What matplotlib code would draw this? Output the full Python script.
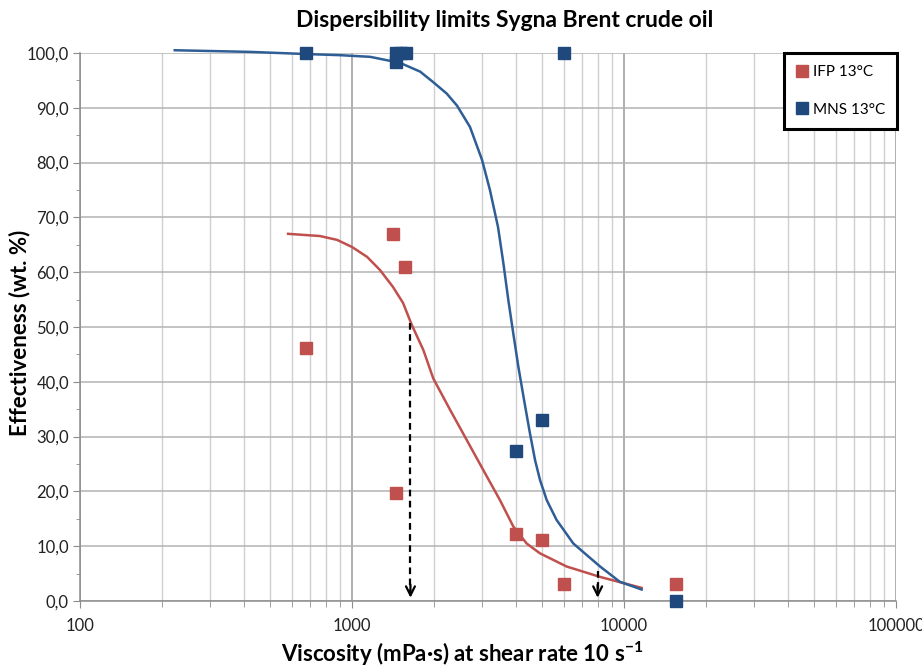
import numpy as np
import matplotlib
matplotlib.use("Agg")
import matplotlib.pyplot as plt
from matplotlib.ticker import FuncFormatter, LogLocator, MultipleLocator, NullFormatter

plt.rcParams.update({
    "font.family": ["Lato", "DejaVu Sans"],
    "mathtext.default": "regular",
})

# measured points, viscosity (mPa.s) vs effectiveness (wt. %)
ifp_visc = [680, 1420, 1560, 1450, 4000, 5000, 6000, 15500]
ifp_eff = [46.2, 67.0, 61.0, 19.7, 12.2, 11.1, 3.1, 3.1]

mns_visc = [680, 1450, 1450, 1510, 1580, 4000, 5000, 6000, 15500]
mns_eff = [100.0, 98.3, 100.0, 100.0, 100.0, 27.3, 33.0, 100.0, 0.0]

# fitted trend curves
ifp_fit_visc = [582, 762, 881, 1000, 1136, 1267, 1415, 1540, 1658, 1829, 1990,
                2293, 2640, 3038, 3500, 3917, 4386, 4910, 6152, 8166, 11610]
ifp_fit_eff = [67.0, 66.6, 65.9, 64.6, 62.8, 60.4, 57.3, 54.4, 50.4, 45.8, 40.6,
               34.9, 29.4, 23.9, 18.4, 13.6, 10.5, 8.7, 6.3, 4.4, 2.4]

mns_fit_visc = [223, 422, 683, 903, 1165, 1501, 1780, 1986, 2229, 2432, 2715, 3006,
                3214, 3443, 3600, 3756, 3917, 4087, 4290, 4510, 4710, 4910, 5200,
                5650, 6510, 8166, 9660, 11610]
mns_fit_eff = [100.5, 100.2, 99.8, 99.6, 99.3, 98.2, 96.6, 94.7, 92.6, 90.4, 86.5, 80.5,
               75.0, 68.2, 61.7, 54.9, 48.8, 42.8, 36.7, 30.6, 25.7, 22.1, 18.4,
               14.8, 10.5, 6.3, 3.5, 2.1]

# dispersibility limits marked with arrows
limit_visc = [1640, 8000]
limit_start = [50.8, 5.5]

red = "#C0504D"
blue = "#1F497D"

fig = plt.figure(figsize=(9.22, 6.69), dpi=100)
ax = fig.add_axes([0.0868, 0.1016, 0.8850, 0.8192])

ax.set_xscale("log")
ax.set_xlim(100, 100000)
ax.set_ylim(0, 100)

# grid
ax.xaxis.set_major_locator(LogLocator(base=10, numticks=10))
ax.xaxis.set_minor_locator(LogLocator(base=10, subs=np.arange(2, 10), numticks=50))
ax.xaxis.set_minor_formatter(NullFormatter())
ax.yaxis.set_major_locator(MultipleLocator(10))
ax.yaxis.set_minor_locator(MultipleLocator(5))
ax.grid(True, which="major", axis="x", color="#9a9a9a", lw=1.1)
ax.grid(True, which="minor", axis="x", color="#cfcfcf", lw=1.0)
ax.grid(True, which="major", axis="y", color="#b3b3b3", lw=1.1)
ax.set_axisbelow(True)

ax.xaxis.set_major_formatter(FuncFormatter(lambda v, p: f"{int(round(v))}"))
ax.yaxis.set_major_formatter(FuncFormatter(lambda v, p: f"{v:.1f}".replace(".", ",")))

for s in ["top", "right"]:
    ax.spines[s].set_visible(False)
for s in ["left", "bottom"]:
    ax.spines[s].set_color("#8c8c8c")
    ax.spines[s].set_linewidth(1.1)
ax.tick_params(axis="both", which="both", color="#8c8c8c", labelsize=12,
               labelcolor="#222222")
ax.tick_params(axis="y", which="major", length=5, pad=3)
ax.tick_params(axis="y", which="minor", length=3)
ax.tick_params(axis="x", which="major", length=5, pad=7)
ax.tick_params(axis="x", which="minor", length=4)

# curves
ax.plot(ifp_fit_visc, ifp_fit_eff, color=red, lw=1.8, zorder=3)
ax.plot(mns_fit_visc, mns_fit_eff, color="#2E5E95", lw=1.8, zorder=3, clip_on=False)

# points
ax.plot(ifp_visc, ifp_eff, "s", color=red, ms=8.5, label="IFP 13°C", zorder=4, clip_on=False)
ax.plot(mns_visc, mns_eff, "s", color=blue, ms=8.5, label="MNS 13°C", zorder=4, clip_on=False)

# arrows
for xv, y0 in zip(limit_visc, limit_start):
    ax.plot([xv, xv], [y0, 1.5], color="black", lw=1.6, ls=(0, (3, 2)), zorder=5)
    ax.annotate("", xy=(xv, 0.6), xytext=(xv, 3.0),
                arrowprops=dict(arrowstyle="->", color="black", lw=1.6,
                                mutation_scale=16, shrinkA=0, shrinkB=0),
                zorder=5)

ax.set_title("Dispersibility limits Sygna Brent crude oil", fontsize=16.5,
             fontweight="bold", pad=19, x=0.52)
ax.set_xlabel("Viscosity (mPa·s) at shear rate 10 s$^{-1}$", fontsize=16,
              fontweight="bold", labelpad=4)
ax.xaxis.label.set_x(0.468)
ax.set_ylabel("Effectiveness (wt. %)", fontsize=16, fontweight="bold")
ax.yaxis.set_label_coords(-0.061, 0.49)

leg = ax.legend(loc="upper right", bbox_to_anchor=(0.973, 0.921),
                bbox_transform=fig.transFigure, frameon=True, fancybox=False,
                edgecolor="black", framealpha=1, fontsize=11, handlelength=0.8,
                handletextpad=0.3, labelspacing=1.55, borderpad=0.8,
                borderaxespad=0, markerscale=1.0)
leg.get_frame().set_linewidth(2.2)
leg.set_zorder(10)

fig.savefig("out.png", dpi=100)
